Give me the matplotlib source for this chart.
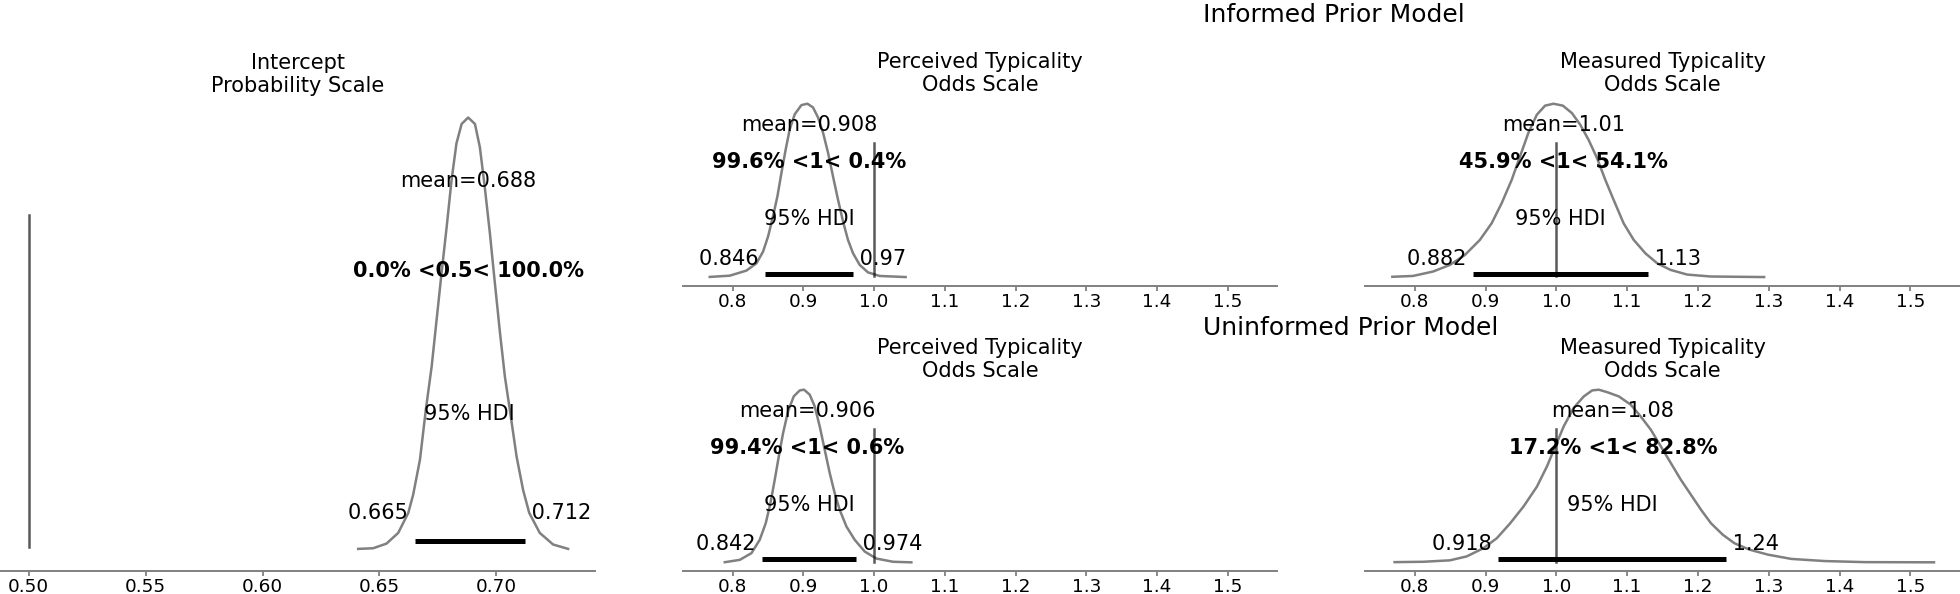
import matplotlib
matplotlib.use("Agg")
import matplotlib.pyplot as plt

# ---------------- data ----------------
titles = ["Intercept\nProbability Scale",
          "Perceived Typicality\nOdds Scale",
          "Measured Typicality\nOdds Scale",
          "Perceived Typicality\nOdds Scale",
          "Measured Typicality\nOdds Scale"]

# posterior density curves (x, density)
intercept_x = [0.6409, 0.6473, 0.6530, 0.6580, 0.6623, 0.6644, 0.6673, 0.6698, 0.6723,
               0.6744, 0.6765, 0.6787, 0.6808, 0.6829, 0.6851, 0.6879, 0.6908, 0.6929,
               0.6950, 0.6972, 0.6989, 0.7015, 0.7036, 0.7057, 0.7086, 0.7114, 0.7140,
               0.7185, 0.7242, 0.7306]
intercept_y = [0.05, 0.10, 0.46, 1.29, 2.84, 4.26, 6.97, 10.84, 14.2,
               17.8, 21.4, 25.0, 28.65, 31.5, 33.0, 33.5, 33.0, 31.2,
               28.1, 24.5, 21.4, 16.8, 13.4, 10.84, 7.2, 4.6, 2.84,
               1.29, 0.39, 0.05]

perc_inf_x = [0.7678, 0.7960, 0.8196, 0.8338, 0.8431, 0.8502, 0.8572, 0.8634, 0.8691,
              0.8751, 0.8808, 0.8879, 0.8973, 0.9058, 0.9137, 0.9208, 0.9278, 0.9349,
              0.9419, 0.9490, 0.9561, 0.9631, 0.9702, 0.9797, 0.9914, 1.0079, 1.0446]
perc_inf_y = [0.03, 0.12, 0.49, 1.02, 1.87, 2.97, 4.43, 5.89, 7.59,
              9.29, 10.75, 11.84, 12.50, 12.60, 12.33, 11.60, 10.51, 9.05,
              7.34, 5.64, 4.06, 2.72, 1.75, 0.90, 0.36, 0.10, 0.02]

meas_inf_x = [0.7684, 0.7976, 0.8259, 0.8496, 0.8708, 0.8921, 0.9086, 0.9228, 0.9370,
              0.9487, 0.9605, 0.9724, 0.9841, 0.9959, 1.0092, 1.0220, 1.0337, 1.0455,
              1.0574, 1.0691, 1.0809, 1.0950, 1.1092, 1.1258, 1.1424, 1.1612, 1.1848,
              1.2178, 1.2934]
meas_inf_y = [0.02, 0.05, 0.21, 0.45, 0.81, 1.36, 1.96, 2.69, 3.54,
              4.39, 5.24, 5.90, 6.23, 6.30, 6.23, 5.96, 5.54, 4.99,
              4.33, 3.54, 2.81, 1.96, 1.36, 0.87, 0.51, 0.27, 0.10,
              0.03, 0.01]

perc_uninf_x = [0.7890, 0.8102, 0.8267, 0.8384, 0.8469, 0.8535, 0.8596, 0.8653, 0.8714,
                0.8784, 0.8864, 0.8949, 0.9010, 0.9090, 0.9161, 0.9232, 0.9302, 0.9373,
                0.9443, 0.9514, 0.9609, 0.9726, 0.9867, 1.0032, 1.0267, 1.0527]
perc_uninf_y = [0.02, 0.18, 0.64, 1.55, 2.69, 4.05, 5.65, 7.24, 8.84,
                10.32, 11.34, 11.75, 11.80, 11.46, 10.66, 9.29, 7.70, 6.11,
                4.74, 3.60, 2.46, 1.55, 0.75, 0.27, 0.05, 0.01]

meas_uninf_x = [0.7716, 0.8118, 0.8496, 0.8733, 0.8969, 0.9159, 0.9348, 0.9536, 0.9726,
                0.9868, 0.9986, 1.0104, 1.0245, 1.0387, 1.0506, 1.0600, 1.0719, 1.0884,
                1.1050, 1.1191, 1.1333, 1.1475, 1.1617, 1.1759, 1.1901, 1.2043, 1.2184,
                1.2350, 1.2515, 1.2728, 1.2989, 1.3319, 1.3792, 1.4359, 1.5333]
meas_uninf_y = [0.01, 0.02, 0.06, 0.17, 0.40, 0.68, 1.10, 1.57, 2.13,
                2.70, 3.26, 3.82, 4.34, 4.66, 4.83, 4.85, 4.78, 4.66,
                4.43, 4.10, 3.73, 3.26, 2.79, 2.32, 1.90, 1.48, 1.10,
                0.78, 0.54, 0.36, 0.22, 0.10, 0.04, 0.01, 0.005]

means = [0.688, 0.908, 1.01, 0.906, 1.08]
hdi_low = [0.665, 0.846, 0.882, 0.842, 0.918]
hdi_high = [0.712, 0.970, 1.13, 0.974, 1.24]
ref_vals = [0.5, 1, 1, 1, 1]
pct_below = [0.0, 99.6, 45.9, 99.4, 17.2]
pct_above = [100.0, 0.4, 54.1, 0.6, 82.8]

group_titles = ["Informed Prior Model", "Uninformed Prior Model"]

# ---------------- figure ----------------
fig = plt.figure(figsize=(19.6, 5.94), dpi=100)

rects = [
    [0.0, 0.0385, 0.3038, 0.8000],
    [0.3485, 0.5185, 0.3032, 0.3215],
    [0.6965, 0.5185, 0.3035, 0.3215],
    [0.3485, 0.0385, 0.3032, 0.3200],
    [0.6965, 0.0385, 0.3035, 0.3200],
]
xlims = [(0.4878, 0.7423), (0.730, 1.570), (0.730, 1.570), (0.730, 1.570), (0.730, 1.570)]
curves = [(intercept_x, intercept_y), (perc_inf_x, perc_inf_y), (meas_inf_x, meas_inf_y),
          (perc_uninf_x, perc_uninf_y), (meas_uninf_x, meas_uninf_y)]

LBL = 15
TCK = 13.3
LW = 1.8

for i in range(5):
    ax = fig.add_axes(rects[i])
    xs, ys = curves[i]
    ax.plot(xs, ys, color="grey", lw=LW)
    m = max(ys)
    ax.set_xlim(*xlims[i])
    ax.set_ylim(-0.05 * m, 1.05 * m)
    top = ax.get_ylim()[1]
    lo, hi = hdi_low[i], hdi_high[i]
    ax.plot([lo, hi], [m * 0.02, m * 0.02], lw=LW * 2, color="k", solid_capstyle="butt")
    ax.text(lo, m * 0.07, f"{lo:.3g} ", size=LBL, ha="right")
    ax.text(hi, m * 0.07, f" {hi:.3g}", size=LBL, ha="left")
    ax.text((lo + hi) / 2, m * 0.3, "95% HDI", size=LBL, ha="center")
    ax.text(means[i], top * 0.8, f"mean={means[i]:.3g}", size=LBL, ha="center")
    ax.axvline(ref_vals[i], ymin=0.05, ymax=0.75, lw=LW, alpha=0.65, color="k")
    ax.text(means[i], top * 0.6,
            f"{pct_below[i]:.1f}% <{ref_vals[i]:g}< {pct_above[i]:.1f}%",
            size=LBL, weight="bold", ha="center")
    ax.set_title(titles[i], fontsize=LBL, pad=3)
    for s in ("top", "left", "right"):
        ax.spines[s].set_visible(False)
    ax.spines["bottom"].set_color("0.5")
    ax.spines["bottom"].set_linewidth(1.4)
    ax.set_yticks([])
    ax.tick_params(axis="x", direction="out", width=1.3, length=3.5, color="0.5",
                   labelsize=TCK, pad=1.2)

fig.text(0.6136, 0.9635, group_titles[0], fontsize=18, ha="left", va="baseline")
fig.text(0.6136, 0.436, group_titles[1], fontsize=18, ha="left", va="baseline")

fig.savefig("out.png", dpi=100)
